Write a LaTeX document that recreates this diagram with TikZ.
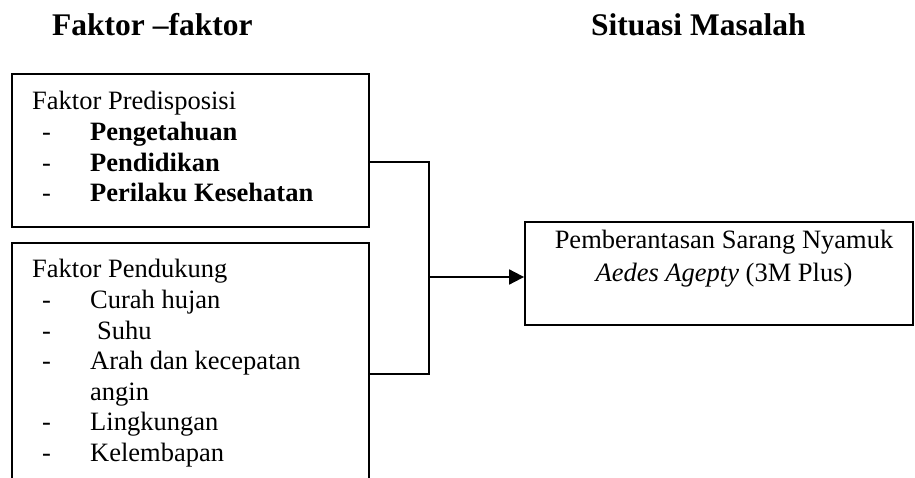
\documentclass[tikz,border=0pt]{standalone}
\usepackage{fontspec}
\setmainfont{Liberation Serif}
\usetikzlibrary{arrows.meta}
\begin{document}
\begin{tikzpicture}[x=1pt,y=-1pt,
  box/.style={draw,line width=1.8pt,inner sep=0pt},
  txt/.style={anchor=base west,inner sep=0pt,font=\fontsize{26.5}{30}\selectfont},
  ttl/.style={anchor=base west,inner sep=0pt,font=\fontsize{31.5}{34}\selectfont\bfseries},
  conn/.style={line width=1.8pt}]
\useasboundingbox (0,0) rectangle (915,478);
% titles
\node[ttl] (t1) at (52,36) {Faktor –faktor};
\node[ttl] (t2) at (591,36) {Situasi Masalah};
% boxes
\node[box,minimum width=357pt,minimum height=153pt] (box1) at (190.5,150.5) {};
\node[box,minimum width=357pt,minimum height=260pt] (box2) at (190.5,373) {};
\node[box,minimum width=388pt,minimum height=103pt] (box3) at (719,273.5) {};
% box1 text
\node[txt] (a0) at (32,110) {Faktor Predisposisi};
\node[txt] (a1d) at (42,141) {-};
\node[txt] (a1) at (90,141) {\bfseries Pengetahuan};
\node[txt] (a2d) at (42,172) {-};
\node[txt] (a2) at (90,172) {\bfseries Pendidikan};
\node[txt] (a3d) at (42,202) {-};
\node[txt] (a3) at (90,202) {\bfseries Perilaku Kesehatan};
% box2 text
\node[txt] (b0) at (32,277) {Faktor Pendukung};
\node[txt] (b1d) at (42,308) {-};
\node[txt] (b1) at (90,308) {Curah hujan};
\node[txt] (b2d) at (42,339) {-};
\node[txt] (b2) at (97,339) {Suhu};
\node[txt] (b3d) at (42,369) {-};
\node[txt] (b3) at (90,369) {Arah dan kecepatan};
\node[txt] (b4) at (90,400) {angin};
\node[txt] (b5d) at (42,430) {-};
\node[txt] (b5) at (90,430) {Lingkungan};
\node[txt] (b6d) at (42,461) {-};
\node[txt] (b6) at (90,461) {Kelembapan};
% box3 text
\node[anchor=base,inner sep=0pt,font=\fontsize{26.5}{30}\selectfont] (c1) at (724,249) {Pemberantasan Sarang Nyamuk};
\node[anchor=base,inner sep=0pt,font=\fontsize{26.5}{30}\selectfont] (c2) at (724,281) {\textit{Aedes Agepty} (3M Plus)};
% connectors
\coordinate (j1) at (429,162);
\coordinate (j2) at (429,374);
\coordinate (ja) at (429,277);
\draw[conn] (j1 -| box1.east) -- (j1) -- (j2) -- (j2 -| box2.east);
\draw[conn,-{Triangle[length=15pt,width=15pt]}] (ja) -- (ja -| box3.west);
\end{tikzpicture}
\end{document}
